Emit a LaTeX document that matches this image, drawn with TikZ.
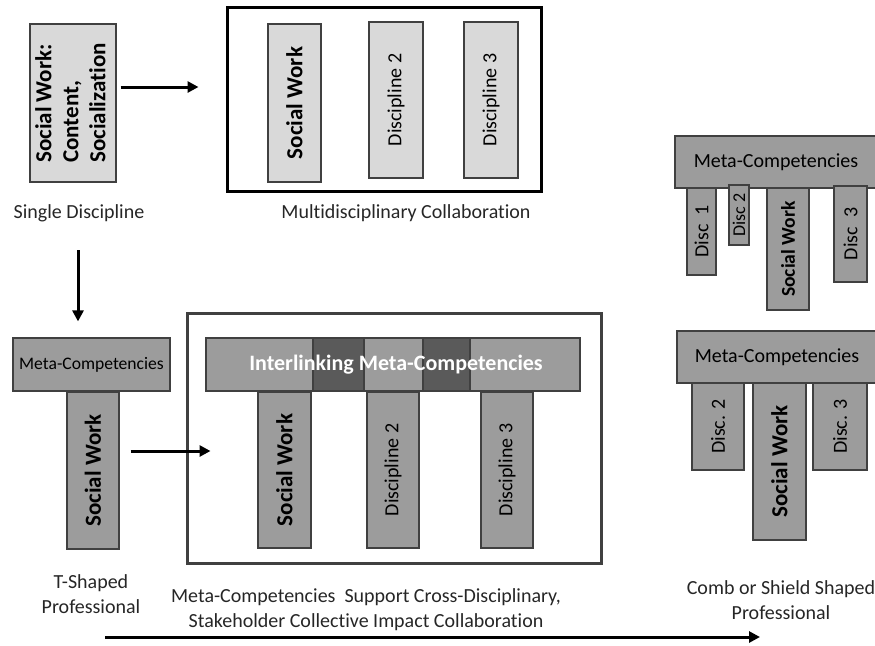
\documentclass[tikz,border=0pt]{standalone}
\usepackage{fontspec}
\setmainfont{Carlito}[Ligatures=NoCommon]
\usepackage{xcolor}
\usepackage{tikz}
\usetikzlibrary{calc}
\usetikzlibrary{arrows.meta}

\definecolor{lightgr}{HTML}{D9D9D9}
\definecolor{midgr}{HTML}{9C9C9C}
\definecolor{darkgr}{HTML}{5A5A5A}
\definecolor{edgegr}{HTML}{404040}

\begin{document}
\begin{tikzpicture}[x=0.5pt, y=-0.5pt,
    sz/.style 2 args={minimum width=#1*0.5pt, minimum height=#2*0.5pt},
    box/.style={draw=edgegr, line width=0.6pt, inner sep=0pt},
    light/.style={box, fill=lightgr},
    mid/.style={box, fill=midgr},
    dark/.style={box, fill=darkgr},
    frame/.style={draw=#1, line width=1.5pt, inner sep=0pt},
    lbl/.style={font=\fontsize{10}{12.5}\selectfont, align=center, text=black!85},
    bold/.style={font=\fontsize{11.5}{13.5}\selectfont\bfseries},
    reg/.style={font=\fontsize{10}{12}\selectfont},
    flow/.style={-{Triangle[length=5.5pt,width=5.5pt]}, line width=1.5pt}]
    \useasboundingbox (0,0) rectangle (875,645);

    % single discipline
    \node[light, sz={86}{158}, bold] (sd) at (73,103)
        {\rotatebox{90}{\begin{tabular}{@{}l@{}}Social Work:\\Content,\\Socialization\end{tabular}}};
    \node[lbl] (sdlabel) at (79,213) {Single Discipline};

    % multidisciplinary
    \node[frame=black, sz={314}{184}] (multi) at (384,99) {};
    \node[light, sz={53}{158}, bold] (msw) at (294.5,103) {\rotatebox{90}{Social Work}};
    \node[light, sz={54}{156}, reg] (md2) at (396,100) {\rotatebox{90}{Discipline 2}};
    \node[light, sz={54}{156}, reg] (md3) at (491,100) {\rotatebox{90}{Discipline 3}};
    \node[lbl] (multilabel) at (406,213) {Multidisciplinary Collaboration};

    % T-shaped
    \node[mid, sz={157}{53}, font=\fontsize{8.8}{10}\selectfont] (tmeta) at (91.5,364.5) {Meta-Competencies};
    \node[mid, sz={52}{157}, bold] (tsw) at (93,470.5) {\rotatebox{90}{Social Work}};
    \node[lbl] (tlabel) at (91,594) {T-Shaped\\Professional};

    % interlinking
    \node[frame=edgegr, sz={414}{250}] (intbox) at (394,438) {};
    \node[mid, sz={374}{53}] (ibar) at (393,364.5) {};
    \node[dark, sz={51}{53}] (ilink1) at (338.5,364.5) {};
    \node[dark, sz={47}{53}] (ilink2) at (446.5,364.5) {};
    \node[text=white, font=\fontsize{11}{13}\selectfont\bfseries] (ibartext) at (396,364.5)
        {Interlinking Meta-Competencies};
    \node[mid, sz={53}{156}, bold] (isw) at (284.5,470) {\rotatebox{90}{Social Work}};
    \node[mid, sz={52}{156}, reg] (id2) at (393,470) {\rotatebox{90}{Discipline 2}};
    \node[mid, sz={52}{156}, reg] (id3) at (507,470) {\rotatebox{90}{Discipline 3}};
    \node[lbl] (intlabel) at (366,610)
        {Meta-Competencies\ \ Support Cross-Disciplinary,\\Stakeholder Collective Impact Collaboration};

    % comb, top
    \node[mid, sz={202}{52}, reg] (cmeta1) at (776,162) {Meta-Competencies};
    \node[mid, sz={29}{87}, reg] (cd1) at (701.5,231.5) {\rotatebox{90}{Disc\ \ 1}};
    \node[mid, sz={20}{60}, font=\fontsize{9}{10}\selectfont] (cd2) at (739,215) {\rotatebox{90}{Disc 2}};
    \node[mid, sz={42}{122}, font=\fontsize{9.8}{11}\selectfont\bfseries] (csw1) at (788,249) {\rotatebox{90}{Social Work}};
    \node[mid, sz={33}{96}, reg] (cd3) at (850.5,234) {\rotatebox{90}{Disc\ \ 3}};

    % comb, bottom
    \node[mid, sz={200}{52}, reg] (cmeta2) at (777,357) {Meta-Competencies};
    \node[mid, sz={52}{87}, reg] (cdd2) at (718,426.5) {\rotatebox{90}{Disc. 2}};
    \node[mid, sz={53}{157}, bold] (csw2) at (779.5,461.5) {\rotatebox{90}{Social Work}};
    \node[mid, sz={54}{87}, reg] (cdd3) at (840,426.5) {\rotatebox{90}{Disc. 3}};
    \node[lbl] (comblabel) at (781,600) {Comb or Shield Shaped\\Professional};

    % arrows
    \draw[flow] ($(sd.east)+(2pt,8pt)$) -- ($(multi.west)+(-13.5pt,6pt)$);
    \draw[flow] ($(sdlabel)+(-0.5pt,-18.5pt)$) -- ($(sdlabel |- tmeta.north)+(-0.5pt,8pt)$);
    \draw[flow] ($(tsw.east)+(5.5pt,9.75pt)$) -- ($(intbox.west)+(12.5pt,-6.5pt)$);
    \coordinate (tstart) at (105,637);
    \coordinate (tend) at (760,637);
    \draw[flow] (tstart) -- (tend);
\end{tikzpicture}
\end{document}
